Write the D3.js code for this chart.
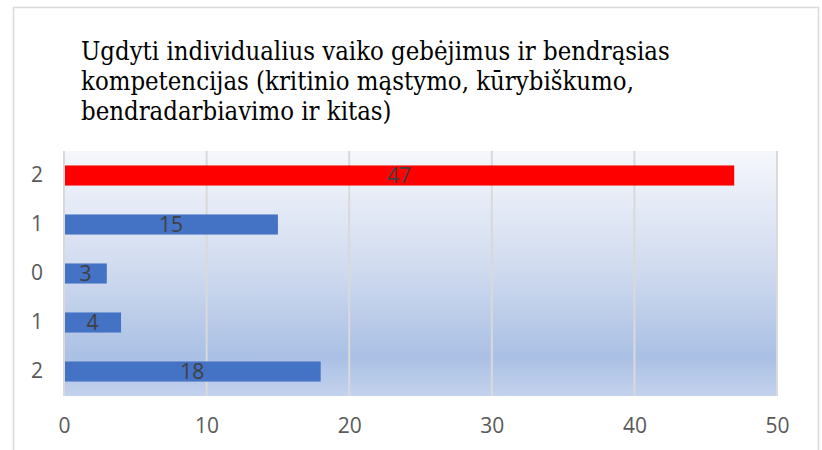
<!DOCTYPE html>
<html>
<head>
<meta charset="utf-8">
<script src="https://cdn.jsdelivr.net/npm/d3@7"></script>
<style>
  body { margin: 0; background: #fff; }
  svg { display: block; }
</style>
</head>
<body>
<div class="chart"></div>
<script>
// categories top to bottom, as shown on the axis
var categories = ["2", "1", "0", "1", "2"];
var values = [47, 15, 3, 4, 18];
var barColors = ["#ff0000", "#4472c4", "#4472c4", "#4472c4", "#4472c4"];
var xTicks = [0, 10, 20, 30, 40, 50];
var titleLines = [
  "Ugdyti individualius vaiko gebėjimus ir bendrąsias",
  "kompetencijas (kritinio mąstymo, kūrybiškumo,",
  "bendradarbiavimo ir kitas)"
];

var width = 822,
  height = 450,
  plot = {left: 64, right: 777, top: 151, bottom: 396};

var svg = d3.select(".chart")
  .append("svg")
  .attr("width", width)
  .attr("height", height);

// chart frame (the picture is cut at the bottom)
svg.append("path")
  .attr("d", "M13.5,450 V7.5 H818.5 V450")
  .attr("fill", "none")
  .attr("stroke", "#d9d9d9")
  .attr("stroke-width", 1.5);

// background gradient of the plot area
var grad = svg.append("defs").append("linearGradient")
  .attr("id", "bg")
  .attr("x1", 0).attr("y1", 0).attr("x2", 0).attr("y2", 1);
[[0, "#f5f7fc"], [0.45, "#d3ddf0"], [0.84, "#aac0e4"], [1, "#c3d2ed"]].forEach(s => {
  grad.append("stop").attr("offset", s[0]).attr("stop-color", s[1]);
});

svg.append("rect")
  .attr("x", plot.left)
  .attr("y", plot.top)
  .attr("width", plot.right - plot.left)
  .attr("height", plot.bottom - plot.top)
  .attr("fill", "url(#bg)");

var xScale = d3.scaleLinear().domain([0, 50]).range([plot.left, plot.right]);
var yScale = d3.scaleBand()
  .domain(d3.range(categories.length))
  .range([plot.top, plot.bottom])
  .paddingInner(0.59)
  .paddingOuter(0.295);

// vertical gridlines
svg.append("g")
  .selectAll("line")
  .data(xTicks)
  .enter().append("line")
  .attr("x1", d => xScale(d))
  .attr("x2", d => xScale(d))
  .attr("y1", plot.top)
  .attr("y2", plot.bottom)
  .attr("stroke", "#d9d9d9")
  .attr("stroke-width", 2);

// bars
svg.append("g")
  .selectAll("rect")
  .data(values)
  .enter().append("rect")
  .attr("x", xScale(0) + 1)
  .attr("y", (d, i) => yScale(i))
  .attr("width", d => xScale(d) - xScale(0) - 1)
  .attr("height", yScale.bandwidth())
  .attr("fill", (d, i) => barColors[i]);

// data labels
svg.append("g")
  .selectAll("text")
  .data(values)
  .enter().append("text")
  .attr("x", d => (xScale(0) + xScale(d)) / 2)
  .attr("y", (d, i) => yScale(i) + yScale.bandwidth() / 2)
  .attr("dy", "0.36em")
  .attr("text-anchor", "middle")
  .attr("font-family", "'Open Sans', sans-serif")
  .attr("font-size", 21)
  .attr("fill", "#404040")
  .text(d => d);

// x axis
var xAxis = d3.axisBottom(xScale).tickValues(xTicks).tickSize(0).tickPadding(22);
var gx = svg.append("g")
  .attr("transform", `translate(0,${plot.bottom})`)
  .call(xAxis);
gx.select(".domain").remove();
gx.selectAll("text")
  .attr("font-family", "'Open Sans', sans-serif")
  .attr("font-size", 21)
  .attr("fill", "#595959");

// y axis
var yAxis = d3.axisLeft(yScale).tickFormat(i => categories[i]).tickSize(0).tickPadding(21);
var gy = svg.append("g")
  .attr("transform", `translate(${plot.left},0)`)
  .call(yAxis);
gy.select(".domain").remove();
gy.selectAll("text")
  .attr("font-family", "'Open Sans', sans-serif")
  .attr("font-size", 21)
  .attr("fill", "#595959");

// title
var title = svg.append("text")
  .attr("font-family", "'DejaVu Serif Condensed', 'DejaVu Serif', serif")
  .attr("font-size", 22)
  .attr("fill", "#000");
title.selectAll("tspan")
  .data(titleLines)
  .enter().append("tspan")
  .attr("x", 81)
  .attr("y", (d, i) => 60 + i * 30)
  .text(d => d);
// fit the first line to its width in the picture
var w0 = title.select("tspan").node().getComputedTextLength();
title.attr("font-size", 22 * 589 / w0);
</script>
</body>
</html>
